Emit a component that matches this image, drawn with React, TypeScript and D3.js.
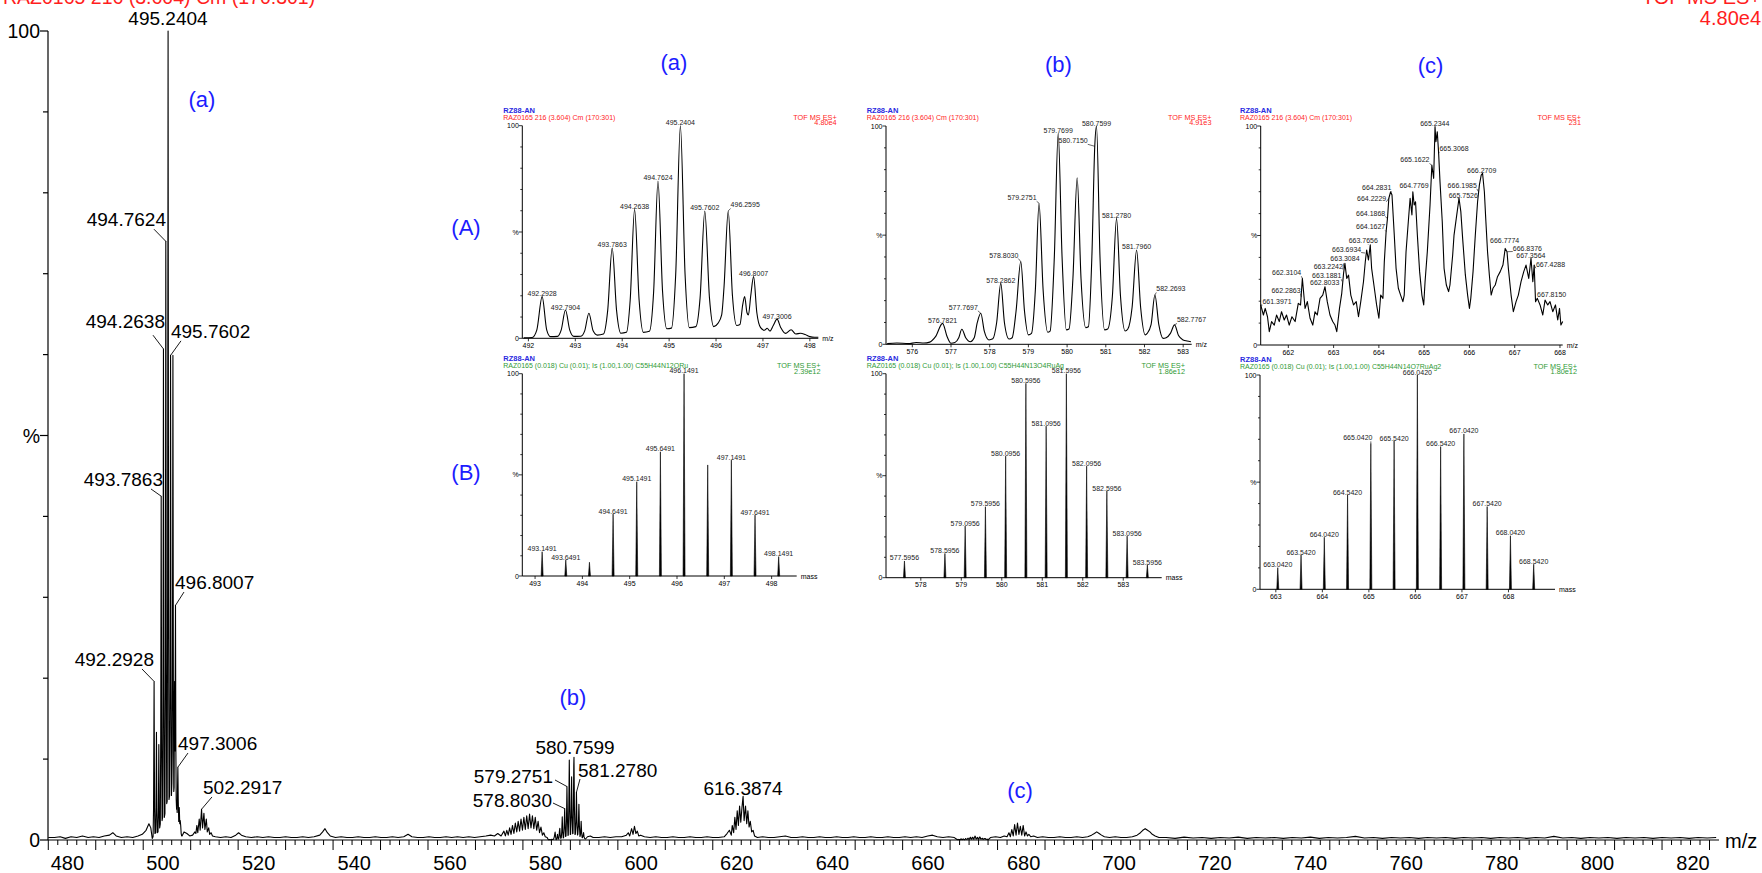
import React from 'react';
import * as d3 from 'd3';

type P = [number, number];

const FONT = '"Liberation Sans", Arial, Helvetica, sans-serif';
const RED = '#ff1e1e';
const BLUE = '#1c1cff';
const GREEN = '#2f9a35';

// ---------- header texts ----------
const mainTitleLeft = 'RAZ0165 216 (3.604) Cm (170:301)';
const mainTitleRight = 'TOF MS ES+';
const mainIntensity = '4.80e4';
const sampleName = 'RZ88-AN';
const expHeader = 'RAZ0165 216 (3.604) Cm (170:301)';
const simHeaders = [
  'RAZ0165  (0.018) Cu (0.01); Is (1.00,1.00) C55H44N12ORu',
  'RAZ0165  (0.018) Cu (0.01); Is (1.00,1.00) C55H44N13O4RuAg',
  'RAZ0165  (0.018) Cu (0.01); Is (1.00,1.00) C55H44N14O7RuAg2',
];
const expIntensityLabels = ['4.80e4', '4.91e3', '231'];
const simIntensityLabels = ['2.39e12', '1.86e12', '1.80e12'];
const bpiA = 4.8e4;
const bpiB = 4.91e3;
const bpiC = 231;

// ---------- tick labels ----------
const mainXTickLabels = [480, 500, 520, 540, 560, 580, 600, 620, 640, 660, 680, 700, 720, 740, 760, 780, 800, 820];
const ticksAa = [492, 493, 494, 495, 496, 497, 498];
const ticksAb = [576, 577, 578, 579, 580, 581, 582, 583];
const ticksAc = [662, 663, 664, 665, 666, 667, 668];
const ticksBa = [493, 494, 495, 496, 497, 498];
const ticksBb = [578, 579, 580, 581, 582, 583];
const ticksBc = [663, 664, 665, 666, 667, 668];

// ---------- measured profile (a): m/z, % of 4.80e4 ----------
const profileA: P[] = [
  [491.90, 0.2], [492.08, 0.4], [492.18, 4], [492.2928, 19.6], [492.39, 4], [492.47, 0.8], [492.62, 0.9],
  [492.70, 4], [492.7904, 13.3], [492.88, 4], [492.97, 0.9], [493.12, 1.0], [493.20, 3.5], [493.29, 11.8],
  [493.38, 3.5], [493.47, 1.5], [493.60, 2.0], [493.69, 13], [493.7863, 42.5], [493.88, 13], [493.97, 2.4],
  [494.09, 2.8], [494.17, 18], [494.2638, 60.7], [494.36, 18], [494.45, 2.8], [494.58, 3.3], [494.67, 22],
  [494.7624, 74], [494.86, 22], [494.95, 4.5], [495.05, 4.8], [495.14, 30], [495.2404, 100], [495.34, 30],
  [495.43, 5], [495.57, 5.5], [495.66, 19], [495.7602, 59.9], [495.86, 19], [495.95, 5.5], [496.04, 7],
  [496.12, 11], [496.17, 24], [496.2595, 59.9], [496.35, 20], [496.44, 6], [496.51, 6.5], [496.57, 16],
  [496.61, 19.6], [496.66, 12], [496.69, 11], [496.74, 20], [496.8007, 29], [496.87, 12], [496.95, 5],
  [497.03, 3.8], [497.09, 4.7], [497.15, 3.4], [497.22, 6], [497.3006, 9], [497.38, 5], [497.48, 2.3],
  [497.60, 4], [497.70, 2], [497.80, 2.4], [497.90, 1.8], [498.00, 0.8], [498.10, 0.5], [498.18, 0.5],
];

// ---------- measured profile (b): m/z, % of 4.91e3 ----------
const profileB: P[] = [
  [575.35, 0.3], [575.6, 0.6], [575.9, 0.3], [576.1, 0.8], [576.3, 0.6], [576.45, 1], [576.6, 3.5],
  [576.7821, 9.6], [576.9, 3.5], [577.0, 0.5], [577.1, 0.8], [577.2, 3], [577.28, 6.9], [577.38, 3],
  [577.5, 1.2], [577.6, 3], [577.68, 10], [577.7697, 14.2], [577.86, 6], [577.98, 2], [578.08, 2.5],
  [578.18, 10], [578.2862, 27.9], [578.38, 10], [578.5, 2.4], [578.58, 3], [578.68, 15], [578.803, 37.9],
  [578.9, 15], [579.0, 4.3], [579.08, 5], [579.18, 25], [579.2751, 64.6], [579.38, 25], [579.5, 5.5],
  [579.56, 6], [579.67, 40], [579.7699, 96.6], [579.87, 40], [579.98, 6.6], [580.05, 7], [580.15, 30],
  [580.26, 76.3], [580.36, 30], [580.48, 7.6], [580.55, 8], [580.64, 40], [580.715, 90.7], [580.7599, 100],
  [580.85, 40], [580.97, 6.6], [581.05, 7], [581.17, 22], [581.278, 57.7], [581.38, 22], [581.5, 6.1],
  [581.57, 7], [581.68, 17], [581.796, 43.2], [581.9, 17], [582.02, 4.3], [582.07, 5], [582.17, 9],
  [582.2693, 22.6], [582.37, 9], [582.48, 2.7], [582.56, 3], [582.67, 5], [582.7767, 8.9], [582.88, 4],
  [583.0, 2], [583.1, 1.5], [583.2, 1.2],
];

// ---------- measured profile (c): m/z, % of 231 ----------
const profileC: P[] = [
  [661.39, 18.3], [661.45, 13.7], [661.49, 16.7], [661.54, 12.9], [661.58, 6.1], [661.63, 10.7], [661.69, 9.1],
  [661.74, 13.7], [661.80, 10.7], [661.85, 15.2], [661.91, 11.4], [661.96, 13.7], [662.02, 9.1], [662.08, 12.9],
  [662.15, 10.7], [662.22, 19.0], [662.27, 18.3], [662.31, 30.4], [662.37, 16.7], [662.42, 19.8], [662.48, 12.2],
  [662.54, 9.1], [662.59, 15.2], [662.64, 13.7], [662.70, 21.3], [662.76, 22.8], [662.81, 26.6], [662.86, 19.8],
  [662.92, 13.7], [662.98, 10.7], [663.03, 9.1], [663.07, 6.1], [663.13, 16.7], [663.18, 23.6], [663.22, 32.7],
  [663.25, 37.3], [663.29, 30.4], [663.33, 31.9], [663.38, 22.8], [663.44, 18.3], [663.50, 19.8], [663.55, 12.9],
  [663.60, 19.8], [663.66, 28.9], [663.70, 38.0], [663.73, 43.4], [663.77, 38.8], [663.81, 45.7], [663.84, 35.0],
  [663.90, 25.9], [663.95, 18.3], [664.00, 12.2], [664.04, 22.8], [664.09, 21.3], [664.12, 38.0], [664.16, 51.8],
  [664.19, 57.8], [664.22, 67.0], [664.26, 70.0], [664.29, 68.5], [664.34, 50.2], [664.38, 35.0], [664.43, 25.9],
  [664.48, 22.8], [664.53, 19.8], [664.56, 22.8], [664.60, 42.6], [664.65, 56.3], [664.69, 67.0], [664.73, 59.4],
  [664.75, 70.0], [664.78, 63.9], [664.81, 65.4], [664.85, 50.2], [664.90, 33.5], [664.95, 22.8], [664.99, 18.3],
  [665.02, 28.9], [665.07, 42.6], [665.13, 63.9], [665.17, 82.2], [665.21, 76.1], [665.24, 99.7], [665.26, 92.8],
  [665.29, 97.4], [665.32, 87.5], [665.35, 74.6], [665.40, 56.3], [665.44, 35.0], [665.49, 27.4], [665.54, 24.4],
  [665.57, 27.4], [665.63, 41.1], [665.66, 50.2], [665.72, 59.4], [665.77, 67.0], [665.81, 60.9], [665.85, 48.7],
  [665.91, 32.0], [665.96, 22.8], [666.00, 16.7], [666.03, 21.3], [666.08, 33.5], [666.13, 50.2], [666.18, 65.4],
  [666.22, 73.1], [666.26, 77.6], [666.29, 78.4], [666.33, 70.0], [666.36, 57.8], [666.40, 42.6], [666.44, 32.0],
  [666.48, 22.8], [666.52, 25.9], [666.57, 27.4], [666.62, 31.2], [666.68, 33.5], [666.74, 36.5], [666.79, 44.1],
  [666.83, 42.6], [666.86, 35.0], [666.92, 22.8], [666.97, 15.2], [667.03, 19.8], [667.08, 22.8], [667.14, 28.9],
  [667.20, 33.5], [667.25, 36.5], [667.31, 30.4], [667.36, 39.6], [667.40, 28.9], [667.43, 36.5], [667.46, 19.8],
  [667.50, 21.3], [667.56, 18.3], [667.62, 13.7], [667.67, 20.5], [667.73, 18.3], [667.78, 19.8], [667.84, 15.2],
  [667.90, 18.3], [667.95, 11.4], [667.99, 16.7], [668.02, 9.1], [668.06, 10.7],
];

// ---------- rest of the full-range spectrum (% of 4.80e4) ----------
const mainBackground: P[] = [
  [470.0, 0.3], [471.3, 0.3], [472.5, 0.4], [473.6, 0.2], [474.8, 0.4], [476, 0.3], [477.2, 0.5], [478.4, 0.3], [479.5, 0.4],
  [480.7, 0.3], [481.8, 0.5], [482.9, 0.6], [483.6, 0.9], [484.3, 0.5], [485.4, 0.3], [486.6, 0.4], [487.8, 0.3],
  [488.9, 0.5], [489.8, 0.7], [490.6, 1.2], [491.2, 2.0], [491.6, 1.5],
  [498.6, 1.0], [499.2, 0.8], [499.8, 0.5], [500.4, 0.6], [500.9, 1.0], [501.1, 0.8], [501.3, 1.8], [501.5, 0.9],
  [501.8, 2.6], [502.0, 1.2], [502.2917, 3.8], [502.5, 1.5], [502.79, 3.3], [503.0, 1.3], [503.29, 2.6],
  [503.5, 1.0], [503.8, 1.5], [504.0, 0.7], [504.3, 0.9], [504.6, 0.5], [505.2, 0.4], [506.3, 0.3], [507.4, 0.4],
  [508.5, 0.3], [509.5, 0.6], [510.1, 0.9], [510.7, 0.6], [511.6, 0.4], [512.8, 0.3], [514, 0.4], [515.2, 0.3],
  [516.4, 0.4], [517.6, 0.3], [518.8, 0.3], [520, 0.4], [521.2, 0.3], [522.4, 0.3], [523.6, 0.4], [524.8, 0.3],
  [526, 0.4], [527.2, 0.6], [527.8, 1.0], [528.3, 1.4], [528.8, 0.9], [529.4, 0.5], [530.5, 0.3], [531.7, 0.4],
  [532.9, 0.3], [534.1, 0.3], [535.3, 0.4], [536.5, 0.3], [537.7, 0.3], [538.9, 0.4], [540.1, 0.3], [541.3, 0.3],
  [542.5, 0.4], [543.7, 0.3], [544.9, 0.4], [545.8, 0.7], [546.6, 0.4], [547.8, 0.3], [549, 0.3], [550.2, 0.4],
  [551.4, 0.3], [552.6, 0.3], [553.8, 0.4], [555, 0.3], [556.2, 0.4], [557.4, 0.3], [558.6, 0.4], [559.8, 0.3],
  [561, 0.4], [562.2, 0.5], [563.2, 0.6], [564, 0.5], [564.7, 0.8], [565.4, 0.5], [566, 1.1], [566.3, 0.5],
  [566.6, 1.2], [566.9, 0.6], [567.2, 1.5], [567.5, 0.7], [567.8, 1.8], [568.1, 0.8], [568.4, 2.1], [568.7, 1.0],
  [569, 2.3], [569.3, 1.1], [569.6, 2.6], [569.9, 1.2], [570.2, 2.8], [570.5, 1.3], [570.8, 3.0], [571.1, 1.4],
  [571.4, 3.2], [571.7, 1.5], [572.0, 3.0], [572.3, 1.4], [572.6, 2.8], [572.9, 1.2], [573.2, 2.3], [573.5, 0.9],
  [573.8, 1.6], [574.1, 0.6], [574.4, 0.9], [574.7, 0.4], [575.1, 0.3],
  [583.6, 0.4], [584.2, 0.5], [584.8, 0.3], [586, 0.3], [587.2, 0.4], [588.4, 0.3], [589.6, 0.4], [590.8, 0.4],
  [591.8, 0.6], [592.2, 0.9], [592.5, 0.5], [592.9, 1.4], [593.2, 0.7], [593.5, 1.7], [593.8, 0.8], [594.1, 1.1],
  [594.4, 0.5], [594.8, 0.6], [595.6, 0.4],
  [596.8, 0.3], [598, 0.4], [599.2, 0.3], [600.4, 0.3], [601.6, 0.4], [602.8, 0.3], [604, 0.3], [605.2, 0.4],
  [606.4, 0.3], [607.6, 0.3], [608.8, 0.4], [610, 0.3], [611.2, 0.3], [612.4, 0.4], [613, 0.8], [613.5, 1.2],
  [613.9, 0.6], [614.1, 1.8], [614.4, 0.9], [614.65, 2.8], [614.9, 1.3], [615.15, 3.6], [615.4, 1.8],
  [615.65, 4.2], [615.9, 2.2], [616.15, 4.0], [616.3874, 5.4], [616.6, 2.4], [616.9, 4.2], [617.15, 2.0],
  [617.4, 3.6], [617.65, 1.6], [617.9, 2.3], [618.2, 1.0], [618.5, 1.2], [618.8, 0.5], [619.4, 0.3], [620.5, 0.4],
  [621.7, 0.3], [622.9, 0.3], [624.1, 0.4], [625.3, 0.5], [626.5, 0.3], [627.7, 0.3], [628.9, 0.4], [630.1, 0.3],
  [631.3, 0.3], [632.5, 0.4], [633.7, 0.3], [634.9, 0.3], [636.1, 0.4], [637.3, 0.3], [638.5, 0.3], [639.7, 0.4],
  [640.9, 0.3], [642.1, 0.3], [643.3, 0.4], [644.5, 0.3], [645.7, 0.3], [646.9, 0.4], [648.1, 0.3], [649.3, 0.3],
  [650.5, 0.4], [651.7, 0.3], [652.9, 0.4], [654.1, 0.3], [655.3, 0.5], [656.3, 0.6], [657.3, 0.4], [658.5, 0.3],
  [659.7, 0.4], [660.9, 0.3],
  [668.5, 0.3], [669.6, 0.4], [670.6, 0.3], [671.4, 0.5], [672, 0.4], [672.4, 0.9], [672.7, 0.4], [673, 1.3],
  [673.3, 0.5], [673.6, 1.9], [673.9, 0.6], [674.2, 2.1], [674.5, 0.7], [674.8, 1.7], [675.1, 0.6], [675.4, 1.8],
  [675.7, 0.5], [676, 1.0], [676.3, 0.5], [676.6, 0.7], [677, 0.4], [677.6, 0.5], [678.4, 0.3], [679.5, 0.4],
  [680.7, 0.3], [681.9, 0.3], [683.1, 0.4], [684.3, 0.3], [685.5, 0.3], [686.7, 0.4], [687.9, 0.3], [689, 0.4],
  [689.8, 0.6], [690.4, 0.8], [690.9, 1.0], [691.4, 0.8], [691.9, 0.6], [692.5, 0.4], [693.6, 0.3], [694.8, 0.4],
  [696, 0.3], [697.2, 0.3], [698.4, 0.4], [699.4, 0.6], [700.1, 0.9], [700.6, 1.2], [701.1, 1.4], [701.6, 1.2],
  [702.1, 1.0], [702.6, 0.7], [703.2, 0.5], [704, 0.3],
  [705.5, 0.3], [707.4, 0.2], [709.3, 0.35], [711.2, 0.25], [713.1, 0.3], [715, 0.2], [716.9, 0.3], [718.8, 0.25],
  [720.7, 0.35], [722.6, 0.2], [724.5, 0.3], [726.4, 0.25], [728.3, 0.3], [730.2, 0.2], [732.1, 0.3], [734, 0.25],
  [735.9, 0.35], [737.8, 0.2], [739.7, 0.3], [741.6, 0.25], [743.5, 0.3], [745.4, 0.45], [747.3, 0.25], [749.2, 0.3],
  [751.1, 0.2], [753, 0.3], [754.9, 0.25], [756.8, 0.3], [758.7, 0.2], [760.6, 0.3], [762.5, 0.25], [764.4, 0.3],
  [766.3, 0.2], [768.2, 0.3], [770.1, 0.25], [772, 0.3], [773.9, 0.2], [775.8, 0.3], [777.7, 0.25], [779.6, 0.3],
  [781.5, 0.2], [783.4, 0.3], [785.3, 0.25], [787.2, 0.45], [789.1, 0.25], [791, 0.3], [792.9, 0.2], [794.8, 0.3],
  [796.7, 0.25], [798.6, 0.3], [800.5, 0.2], [802.4, 0.3], [804.3, 0.25], [806.2, 0.3], [808.1, 0.2], [810, 0.3],
  [811.9, 0.25], [813.8, 0.3], [815.7, 0.2], [817.6, 0.3], [819.5, 0.25], [821.4, 0.3],
];

// ---------- main-chart peak annotations (peak m/z,% ; text m/z,% ; leader start m/z,%) ----------
const mainLabels = [
  { t: '495.2404', pm: 495.2404, pp: 100, tm: 495.22, tp: 100.7, a: 'middle' },
  { t: '494.7624', pm: 494.7624, pp: 74, tm: 494.8, tp: 75.9, a: 'end', lm: 492.27, lp: 75.5 },
  { t: '494.2638', pm: 494.2638, pp: 60.7, tm: 494.59, tp: 63.3, a: 'end', lm: 492.06, lp: 62.4 },
  { t: '495.7602', pm: 495.7602, pp: 59.9, tm: 495.85, tp: 62.05, a: 'start', lm: 497.96, lp: 61.7 },
  { t: '493.7863', pm: 493.7863, pp: 42.5, tm: 494.17, tp: 43.76, a: 'end', lm: 491.64, lp: 43.39 },
  { t: '496.8007', pm: 496.8007, pp: 29, tm: 496.7, tp: 31.03, a: 'start', lm: 498.59, lp: 30.65 },
  { t: '492.2928', pm: 492.2928, pp: 19.6, tm: 492.27, tp: 21.5, a: 'end', lm: 489.74, lp: 21.14 },
  { t: '497.3006', pm: 497.3006, pp: 9, tm: 497.33, tp: 11.12, a: 'start', lm: 499.43, lp: 10.75 },
  { t: '502.2917', pm: 502.2917, pp: 3.8, tm: 502.6, tp: 5.69, a: 'start', lm: 504.49, lp: 5.32 },
  { t: '580.7599', pm: 580.7599, pp: 10.2, tm: 580.98, tp: 10.63, a: 'middle' },
  { t: '579.2751', pm: 579.2751, pp: 6.61, tm: 576.34, tp: 7.05, a: 'end', lm: 576.76, lp: 7.42 },
  { t: '581.2780', pm: 581.278, pp: 5.9, tm: 581.61, tp: 7.79, a: 'start', lm: 582.03, lp: 7.54 },
  { t: '578.8030', pm: 578.803, pp: 3.88, tm: 576.13, tp: 4.08, a: 'end', lm: 576.34, lp: 4.57 },
  { t: '616.3874', pm: 616.3874, pp: 5.4, tm: 616.38, tp: 5.56, a: 'middle' },
];

// ---------- inset peak labels (m/z, %) ----------
const labelsAa: P[] = [
  [492.2928, 19.6], [492.7904, 13.3], [493.7863, 42.5], [494.2638, 60.7], [494.7624, 74], [495.2404, 100],
  [495.7602, 59.9], [496.2595, 59.9], [496.8007, 29], [497.3006, 9],
];
const labelsAb: P[] = [
  [576.7821, 9.6], [577.7697, 14.2], [578.2862, 27.9], [578.803, 37.9], [579.2751, 64.6], [579.7699, 96.6],
  [580.7599, 100], [580.715, 90.7], [581.278, 57.7], [581.796, 43.2], [582.2693, 22.6], [582.7767, 8.9],
];
const labelsAc: P[] = [
  [661.3971, 18.3], [662.2863, 22], [662.3104, 30.4], [662.8033, 26], [663.1881, 29], [663.2242, 37.3],
  [663.3084, 38], [663.6934, 42], [663.7656, 45.7], [664.1627, 51.8], [664.1868, 57.8], [664.2229, 67],
  [664.2831, 70], [664.7769, 70], [665.1622, 82.2], [665.2344, 99.7], [665.3068, 87.5], [665.7526, 67],
  [666.1985, 70], [666.2709, 78.4], [666.7774, 44.1], [666.8376, 42.6], [667.3564, 39.6], [667.4288, 36.5],
  [667.815, 20],
];

// ---------- simulated isotope sticks (m/z, %) ----------
const sticksBa: P[] = [
  [493.1491, 12], [493.6491, 7.9], [494.1491, 6.8], [494.6491, 30.6], [495.1491, 46.6], [495.6491, 61.4],
  [496.1491, 100], [496.6491, 54.9], [497.1491, 57.3], [497.6491, 30.1], [498.1491, 9.6],
];
const stickLabelsBa = [493.1491, 493.6491, 494.6491, 495.1491, 495.6491, 496.1491, 497.1491, 497.6491, 498.1491];
const sticksBb: P[] = [
  [577.5956, 8.2], [578.5956, 11.9], [579.0956, 25.3], [579.5956, 34.8], [580.0956, 59.6], [580.5956, 95.3],
  [581.0956, 74.3], [581.5956, 100], [582.0956, 54.7], [582.5956, 42.5], [583.0956, 20.4], [583.5956, 6.2],
];
const stickLabelsBb = sticksBb.map((d) => d[0]);
const sticksBc: P[] = [
  [663.042, 10.1], [663.542, 16], [664.042, 24.3], [664.542, 44], [665.042, 68.1], [665.542, 69.2],
  [666.042, 100], [666.542, 66.6], [667.042, 72.5], [667.542, 38.6], [668.042, 25], [668.542, 11.7],
];
const stickLabelsBc = sticksBc.map((d) => d[0]);

// ---------- layout (pixel) ----------
const offsetsAa: Record<string, [number, number]> = { '496.2595': [17, -3.5] };
const offsetsAb: Record<string, [number, number]> = {
  '577.7697': [-17.5, -3.5], '578.8030': [-17, -4], '579.2751': [-17, -3], '580.7150': [-21.6, -3],
  '582.2693': [16, -3.5], '582.7767': [17, -2.4],
};
const offsetsAc: Record<string, [number, number]> = {
  '661.3971': [16, -0.8], '662.2863': [-15.3, -4.2], '662.3104': [-15.7, -3.2], '662.8033': [0, -2.8],
  '663.1881': [-15.4, -3.2], '663.2242': [-15.5, 5.2], '663.3084': [-2.6, -0.5], '663.6934': [-18.4, -1.5],
  '663.7656': [-5, -1.5], '664.1627': [-15.6, -2.1], '664.1868': [-16.7, -2.9], '664.2229': [-17.3, 2.5],
  '664.2831': [-15, -1.5], '664.7769': [0, -3.5], '665.1622': [-16.6, -2.5], '665.3068': [16, -2],
  '665.7526': [5, 0], '666.1985': [-16.2, -3.9], '666.7774': [0, -5], '666.8376': [20, -1.2],
  '667.4288': [16.4, 2.2], '667.8150': [0, -4],
};
const offsetsBc: Record<string, [number, number]> = { '665.0420': [-13, -3] };

interface Cfg {
  x0: number; x1: number; y0: number; y100: number; domain: [number, number];
  headX: number; headY: number; rightX: number;
}
const cfgAa: Cfg = { x0: 522.3, x1: 818.3, y0: 338.3, y100: 125.7, domain: [491.87, 498.18], headX: 503.3, headY: 112.8, rightX: 836.7 };
const cfgAb: Cfg = { x0: 886, x1: 1191.7, y0: 344.3, y100: 126, domain: [575.32, 583.22], headX: 866.7, headY: 112.8, rightX: 1211.5 };
const cfgAc: Cfg = { x0: 1260.7, x1: 1562.7, y0: 345, y100: 126, domain: [661.39, 668.06], headX: 1240, headY: 112.8, rightX: 1581 };
const cfgBa: Cfg = { x0: 522.3, x1: 796.7, y0: 576, y100: 373.7, domain: [492.73, 498.53], headX: 503.3, headY: 361, rightX: 820.5 };
const cfgBb: Cfg = { x0: 886, x1: 1161.7, y0: 577.7, y100: 373.7, domain: [577.14, 583.95], headX: 866.7, headY: 361, rightX: 1185 };
const cfgBc: Cfg = { x0: 1260, x1: 1555, y0: 589.3, y100: 375, domain: [662.66, 669.0], headX: 1240, headY: 361.7, rightX: 1577 };

const LF = 7;
const textW = (s: string, fs: number) => {
  let w = 0;
  for (const c of s) w += c === '.' ? 0.278 : 0.556;
  return w * fs;
};

function Inset(props: {
  cfg: Cfg; header2: string; color: string; intensity: string; ticks: number[]; axisName: string;
  profile?: P[]; curve?: any; sticks?: P[]; labels: P[]; offsets: Record<string, [number, number]>;
}) {
  const { cfg, header2, color, intensity, ticks, axisName, profile, curve, sticks, labels, offsets } = props;
  const sx = d3.scaleLinear().domain(cfg.domain).range([cfg.x0, cfg.x1]);
  const sy = d3.scaleLinear().domain([0, 100]).range([cfg.y0, cfg.y100]);
  const line = d3.line<P>().x((d) => sx(d[0])).y((d) => sy(d[1])).curve(curve || d3.curveLinear);
  const yt = d3.range(0, 101, 10);
  return (
    <g fontFamily={FONT}>
      <text x={cfg.headX} y={cfg.headY} fontSize={7.5} fontWeight="bold" fill="#2a2adf">{sampleName}</text>
      <text x={cfg.headX} y={cfg.headY + 6.8} fontSize={7} fill={color}>{header2}</text>
      <text x={cfg.rightX} y={cfg.headY + 6.8} fontSize={7.3} fill={color} textAnchor="end">TOF MS ES+</text>
      <text x={cfg.rightX} y={cfg.headY + 12.6} fontSize={7.3} fill={color} textAnchor="end">{intensity}</text>
      <line x1={cfg.x0} x2={cfg.x0} y1={cfg.y0} y2={cfg.y100} stroke="#000" strokeWidth={1} />
      <line x1={cfg.x0} x2={cfg.x1} y1={cfg.y0} y2={cfg.y0} stroke="#000" strokeWidth={1} />
      {yt.map((v) => (
        <line key={v} x1={cfg.x0 - (v % 50 === 0 ? 3.5 : 2)} x2={cfg.x0} y1={sy(v)} y2={sy(v)} stroke="#000" strokeWidth={0.8} />
      ))}
      <text x={cfg.x0 - 3.5} y={sy(100) + 2.5} fontSize={LF} textAnchor="end">100</text>
      <text x={cfg.x0 - 3.5} y={sy(50) + 2.5} fontSize={LF} textAnchor="end">%</text>
      <text x={cfg.x0 - 3.5} y={sy(0) + 2.5} fontSize={LF} textAnchor="end">0</text>
      {ticks.map((t) => (
        <g key={t}>
          <line x1={sx(t)} x2={sx(t)} y1={cfg.y0} y2={cfg.y0 + 3} stroke="#000" strokeWidth={0.8} />
          <text x={sx(t)} y={cfg.y0 + 9.5} fontSize={LF} textAnchor="middle">{t}</text>
        </g>
      ))}
      <text x={cfg.x1 + 4} y={cfg.y0 + 2.5} fontSize={LF}>{axisName}</text>
      {profile && <path d={line(profile) || ''} fill="none" stroke="#000" strokeWidth={1.1} strokeLinejoin="round" />}
      {sticks && sticks.map(([m, p]) => (
        <path key={m} d={`M${sx(m) - 1},${sy(0)}L${sx(m)},${sy(p)}L${sx(m) + 1},${sy(0)}Z`} fill="#000" stroke="#000" strokeWidth={0.6} />
      ))}
      {labels.map(([m, p]) => {
        const t = m.toFixed(4);
        const off = offsets[t] || [0, -0.5];
        const px = sx(m);
        const py = sy(p);
        const cx = px + off[0];
        const by = py + off[1];
        const w = textW(t, LF);
        const lead = Math.abs(off[0]) > 3 || off[1] > 0;
        const lx = Math.max(cx - w / 2, Math.min(cx + w / 2, px));
        return (
          <g key={t}>
            {lead && <line x1={px} y1={py} x2={lx} y2={by + 1} stroke="#000" strokeWidth={0.6} />}
            <text x={cx} y={by} fontSize={LF} textAnchor="middle" fill="#222">{t}</text>
          </g>
        );
      })}
    </g>
  );
}

export default function App() {
  // data scale of the full-range spectrum
  const x = d3.scaleLinear().domain([469.94, 822]).range([48, 1719]);
  const y = d3.scaleLinear().domain([0, 100]).range([840, 31]);
  // axis number labels sit a little left of their tick marks in the reference
  const xLabel = d3.scaleLinear().domain([480, 820]).range([67.4, 1693]);
  const mainData: P[] = [
    ...mainBackground,
    ...profileA,
    ...profileB.map(([m, p]) => [m, (p * bpiB) / bpiA] as P),
    ...profileC.map(([m, p]) => [m, (p * bpiC) / bpiA] as P),
  ].sort((a, b) => a[0] - b[0]);
  const line = d3.line<P>().x((d) => x(d[0])).y((d) => y(d[1]));
  const minorTicks = d3.range(470, 822, 2);
  const yTicks = d3.range(0, 101, 10);

  const stickLabels = (sticks: P[], keep: number[]) => sticks.filter((d) => keep.includes(d[0]));

  return (
    <svg width={1762} height={873} style={{ position: 'absolute', left: 0, top: 0, background: '#fff' }} fontFamily={FONT}>
      <rect x={0} y={0} width={1762} height={873} fill="#fff" />
      <text x={3} y={3.5} fontSize={19.5} fill={RED}>{mainTitleLeft}</text>
      <text x={1761} y={3.5} fontSize={20} fill={RED} textAnchor="end">{mainTitleRight}</text>
      <text x={1761} y={25} fontSize={20} fill={RED} textAnchor="end">{mainIntensity}</text>

      <line x1={48} x2={48} y1={840} y2={y(100)} stroke="#000" strokeWidth={1.2} />
      <line x1={48} x2={1719} y1={840} y2={840} stroke="#000" strokeWidth={1.2} />
      {yTicks.map((v) => (
        <line key={v} x1={v % 50 === 0 ? 40 : 43} x2={48} y1={y(v)} y2={y(v)} stroke="#000" strokeWidth={1.2} />
      ))}
      <text x={40} y={y(100) + 7} fontSize={19.5} textAnchor="end">100</text>
      <text x={40} y={y(50) + 7} fontSize={19.5} textAnchor="end">%</text>
      <text x={40} y={y(0) + 7} fontSize={19.5} textAnchor="end">0</text>
      {minorTicks.map((t) => (
        <line key={t} x1={x(t)} x2={x(t)} y1={840} y2={t % 10 === 0 ? 850 : 845} stroke="#000" strokeWidth={1} />
      ))}
      {mainXTickLabels.map((t) => (
        <text key={t} x={xLabel(t)} y={870} fontSize={20} textAnchor="middle">{t}</text>
      ))}
      <text x={1725} y={848} fontSize={20}>m/z</text>

      <path d={line(mainData) || ''} fill="none" stroke="#000" strokeWidth={1.1} strokeLinejoin="round" />
      {mainLabels.map((l) => (
        <g key={l.t}>
          {l.lm !== undefined && (
            <line x1={x(l.lm)} y1={y(l.lp)} x2={x(l.pm)} y2={y(l.pp)} stroke="#000" strokeWidth={0.9} />
          )}
          <text x={x(l.tm)} y={y(l.tp)} fontSize={19} textAnchor={l.a as any}>{l.t}</text>
        </g>
      ))}

      <g fill={BLUE} fontSize={22} textAnchor="middle">
        <text x={202} y={107}>(a)</text>
        <text x={573} y={705}>(b)</text>
        <text x={1020} y={798}>(c)</text>
        <text x={674} y={70}>(a)</text>
        <text x={1058.5} y={72}>(b)</text>
        <text x={1430.5} y={73}>(c)</text>
        <text x={466} y={235}>(A)</text>
        <text x={466} y={480}>(B)</text>
      </g>

      <Inset cfg={cfgAa} header2={expHeader} color={RED} intensity={expIntensityLabels[0]} ticks={ticksAa} axisName="m/z"
        profile={profileA} curve={d3.curveMonotoneX} labels={labelsAa} offsets={offsetsAa} />
      <Inset cfg={cfgAb} header2={expHeader} color={RED} intensity={expIntensityLabels[1]} ticks={ticksAb} axisName="m/z"
        profile={profileB} curve={d3.curveMonotoneX} labels={labelsAb} offsets={offsetsAb} />
      <Inset cfg={cfgAc} header2={expHeader} color={RED} intensity={expIntensityLabels[2]} ticks={ticksAc} axisName="m/z"
        profile={profileC} labels={labelsAc} offsets={offsetsAc} />
      <Inset cfg={cfgBa} header2={simHeaders[0]} color={GREEN} intensity={simIntensityLabels[0]} ticks={ticksBa} axisName="mass"
        sticks={sticksBa} labels={stickLabels(sticksBa, stickLabelsBa)} offsets={{}} />
      <Inset cfg={cfgBb} header2={simHeaders[1]} color={GREEN} intensity={simIntensityLabels[1]} ticks={ticksBb} axisName="mass"
        sticks={sticksBb} labels={stickLabels(sticksBb, stickLabelsBb)} offsets={{}} />
      <Inset cfg={cfgBc} header2={simHeaders[2]} color={GREEN} intensity={simIntensityLabels[2]} ticks={ticksBc} axisName="mass"
        sticks={sticksBc} labels={stickLabels(sticksBc, stickLabelsBc)} offsets={offsetsBc} />
    </svg>
  );
}
